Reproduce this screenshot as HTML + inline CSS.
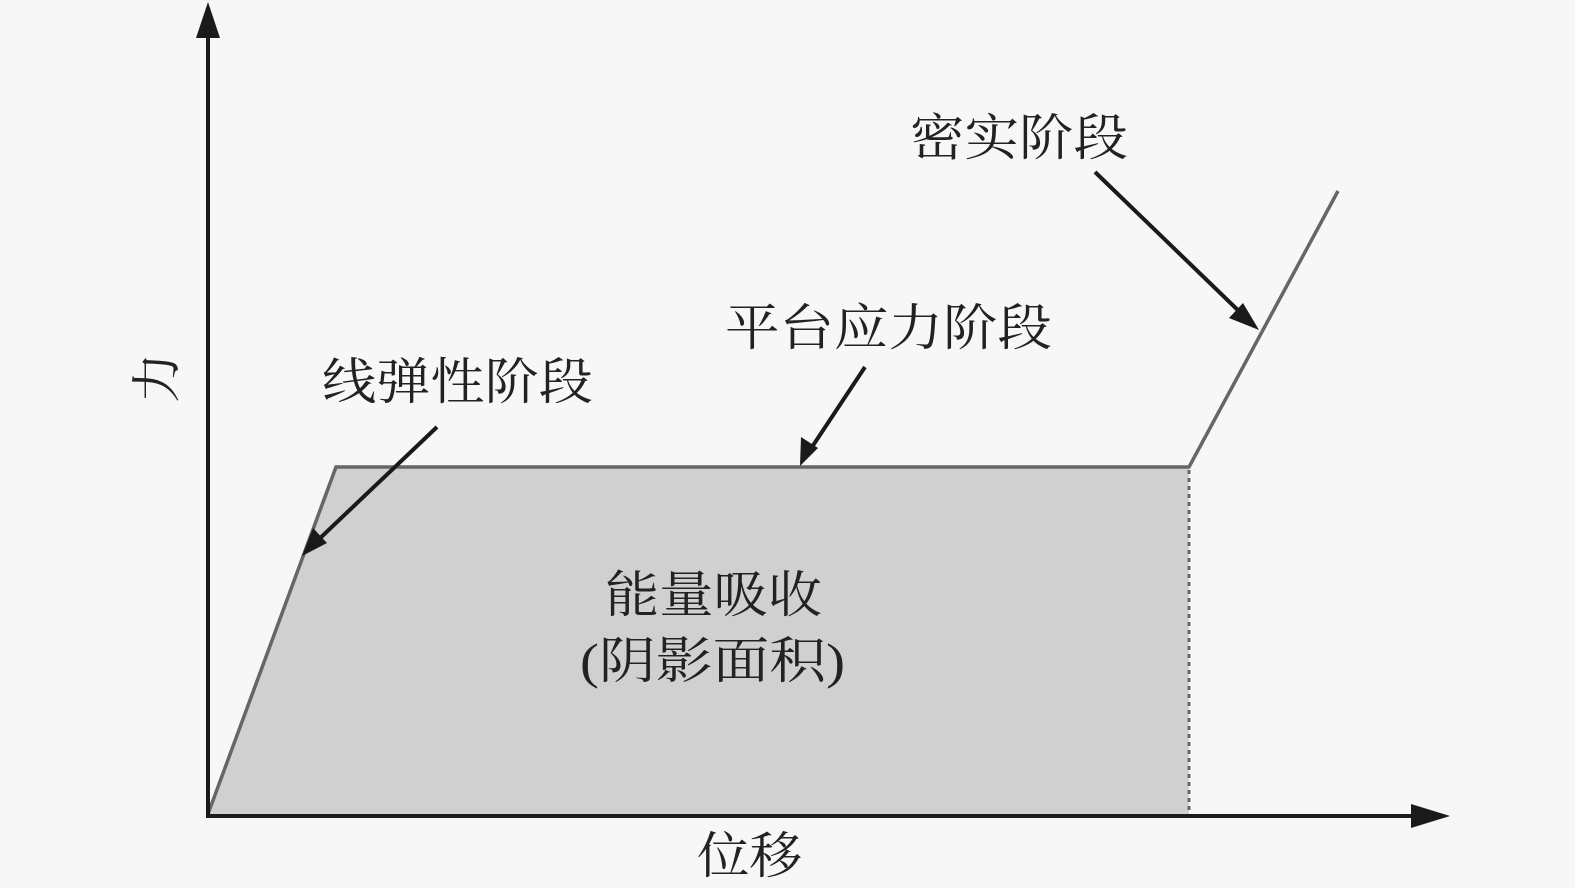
<!DOCTYPE html>
<html><head><meta charset="utf-8"><style>
html,body{margin:0;padding:0;background:#f7f7f7;}
svg{display:block;}
text{font-family:"Liberation Serif","Noto Serif CJK SC",serif;font-size:50px;fill:#222;}
</style></head><body>
<svg width="1575" height="888" viewBox="0 0 1575 888" xmlns="http://www.w3.org/2000/svg">
<polygon points="208,814 336,467 1189,467 1189,814" fill="#d0d0d0"/>
<polyline points="208,814 336,467 1189,467 1338,191" fill="none" stroke="#666" stroke-width="3.5"/>
<line x1="1189" y1="470" x2="1189" y2="812" stroke="#666" stroke-width="3" stroke-dasharray="4,4"/>
<line x1="208" y1="816" x2="208" y2="34" stroke="#1a1a1a" stroke-width="4"/>
<polygon points="208,2 196,38 220,38" fill="#1a1a1a"/>
<line x1="206" y1="816" x2="1415" y2="816" stroke="#1a1a1a" stroke-width="4"/>
<polygon points="1450,816 1411,804 1411,828" fill="#1a1a1a"/>
<line x1="1095" y1="172" x2="1245" y2="317" stroke="#1a1a1a" stroke-width="4"/>
<polygon points="1259,330 1229,318 1243,303" fill="#1a1a1a"/>
<line x1="865" y1="367" x2="810" y2="450" stroke="#1a1a1a" stroke-width="4"/>
<polygon points="800,466 801,437 818,448" fill="#1a1a1a"/>
<line x1="437" y1="427" x2="316" y2="542" stroke="#1a1a1a" stroke-width="4"/>
<polygon points="302,556 313,528 327,543" fill="#1a1a1a"/>
<text x="910" y="155" textLength="218" lengthAdjust="spacingAndGlyphs">密实阶段</text>
<text x="725" y="345" textLength="327" lengthAdjust="spacingAndGlyphs">平台应力阶段</text>
<text x="322" y="399" textLength="271" lengthAdjust="spacingAndGlyphs">线弹性阶段</text>
<text x="605" y="612" textLength="217" lengthAdjust="spacingAndGlyphs">能量吸收</text>
<text x="580" y="678" textLength="265" lengthAdjust="spacingAndGlyphs">(阴影面积)</text>
<text x="697" y="873" textLength="105" lengthAdjust="spacingAndGlyphs">位移</text>
<text x="0" y="0" transform="translate(157,378) rotate(-90)" text-anchor="middle" dy="17">力</text>
</svg>
</body></html>
